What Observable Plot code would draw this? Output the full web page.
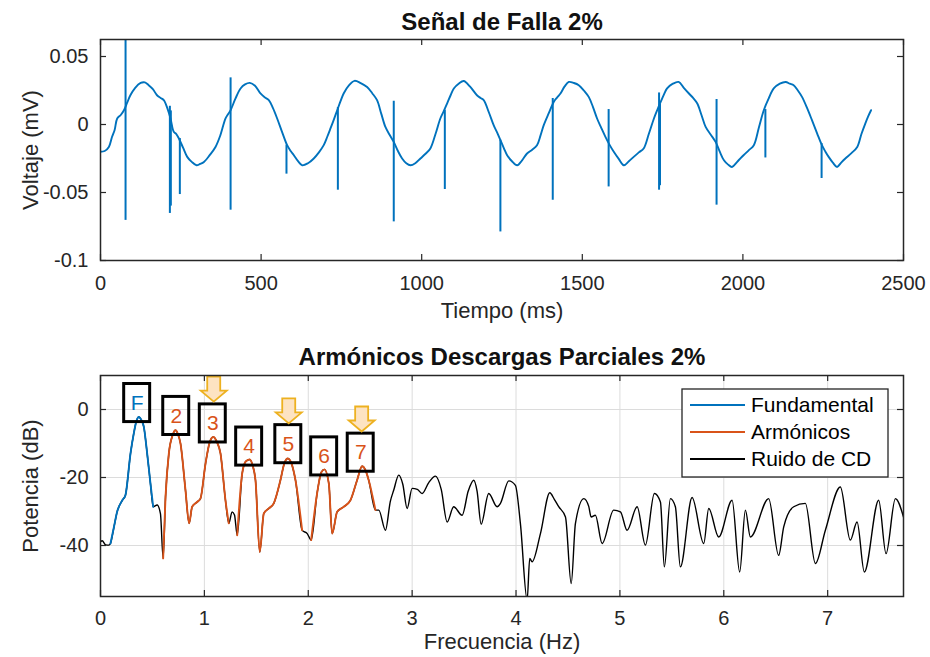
<!DOCTYPE html>
<html><head><meta charset="utf-8">
<script src="https://cdn.jsdelivr.net/npm/d3@7"></script>
<script src="https://cdn.jsdelivr.net/npm/@observablehq/plot@0.6"></script>
<style>
body{margin:0;background:#fff;}
#chart{width:930px;height:657px;position:relative;background:#fff;}
svg{display:block}
</style></head><body><div id="chart"></div>
<script>
// ---------- Top panel data: "Señal de Falla 2%" ----------
const timeMs = [0,13,26,36,44,52,63,73,83,93,108,125,138,150,163,176,187,197,208,218,228,236,244,257,270,284,299,310,322,340,358,373,389,397,405,420,436,450,465,481,498,511,524,537,550,566,581,592,602,615,628,646,664,680,695,706,716,727,737,747,757,774,791,810,830,846,861,874,887,900,913,926,939,952,965,980,996,1012,1027,1043,1058,1069,1079,1090,1100,1115,1131,1150,1172,1183,1193,1209,1224,1235,1245,1256,1266,1281,1297,1312,1328,1344,1359,1370,1380,1396,1411,1422,1432,1445,1458,1474,1489,1505,1520,1533,1546,1559,1572,1585,1598,1614,1629,1645,1660,1676,1691,1707,1723,1734,1744,1754,1764,1782,1800,1816,1832,1845,1858,1871,1884,1900,1915,1928,1941,1954,1966,1984,2002,2018,2034,2050,2065,2080,2096,2115,2133,2146,2158,2171,2184,2200,2215,2231,2246,2257,2267,2280,2293,2306,2319,2338,2356,2369,2381,2390,2399];
const voltage = [-0.0200,-0.0195,-0.0165,-0.0090,-0.0040,0.0044,0.0070,0.0105,0.0160,0.0215,0.0270,0.0306,0.0310,0.0289,0.0260,0.0215,0.0195,0.0179,0.0120,0.0044,-0.0054,-0.0070,-0.0103,-0.0170,-0.0238,-0.0275,-0.0300,-0.0290,-0.0275,-0.0225,-0.0165,-0.0080,0.0044,0.0075,0.0105,0.0190,0.0265,0.0295,0.0306,0.0285,0.0228,0.0200,0.0179,0.0120,0.0044,-0.0060,-0.0152,-0.0195,-0.0226,-0.0270,-0.0300,-0.0285,-0.0250,-0.0205,-0.0152,-0.0090,-0.0029,0.0040,0.0105,0.0170,0.0228,0.0290,0.0321,0.0305,0.0276,0.0230,0.0179,0.0080,-0.0018,-0.0075,-0.0128,-0.0195,-0.0250,-0.0285,-0.0300,-0.0285,-0.0250,-0.0215,-0.0176,-0.0070,0.0044,0.0100,0.0154,0.0215,0.0265,0.0300,0.0320,0.0280,0.0215,0.0195,0.0179,0.0090,-0.0005,-0.0060,-0.0115,-0.0175,-0.0226,-0.0270,-0.0300,-0.0265,-0.0213,-0.0185,-0.0152,-0.0080,-0.0005,0.0085,0.0166,0.0200,0.0228,0.0280,0.0313,0.0305,0.0289,0.0250,0.0203,0.0130,0.0044,-0.0025,-0.0091,-0.0150,-0.0201,-0.0255,-0.0300,-0.0270,-0.0238,-0.0205,-0.0176,-0.0070,0.0044,0.0110,0.0166,0.0220,0.0265,0.0300,0.0313,0.0270,0.0228,0.0195,0.0154,0.0070,-0.0018,-0.0075,-0.0128,-0.0200,-0.0263,-0.0295,-0.0312,-0.0270,-0.0226,-0.0190,-0.0152,-0.0020,0.0105,0.0190,0.0265,0.0300,0.0313,0.0300,0.0289,0.0250,0.0203,0.0120,0.0032,-0.0065,-0.0152,-0.0200,-0.0238,-0.0280,-0.0312,-0.0280,-0.0250,-0.0210,-0.0165,-0.0070,0.0007,0.0060,0.0105];
const spikeTimeMs = [78,216,219,247,405,579,739,913,1072,1245,1408,1582,1739,1742,1918,2070,2245];
const spikeTop    = [0.07,0.0134,0.0100,-0.0103,0.0343,-0.0152,0.0125,0.0171,0.0105,-0.0115,0.0191,0.0110,0.0232,0.0150,0.0184,0.0110,-0.0140];
const spikeBottom = [-0.0705,-0.0654,-0.0600,-0.0515,-0.0630,-0.0365,-0.0483,-0.0716,-0.0478,-0.0790,-0.0557,-0.0459,-0.0483,-0.0450,-0.0593,-0.0246,-0.0397];
const timeTicks = [0,500,1000,1500,2000,2500];
const voltTicks = [-0.1,-0.05,0,0.05];

// ---------- Bottom panel data: "Armónicos Descargas Parciales 2%" ----------
const freqHz = [0,0.016,0.05,0.08,0.096,0.13,0.16,0.21,0.24,0.289,0.32,0.345,0.369,0.395,0.417,0.449,0.481,0.507,0.545,0.577,0.603,0.626,0.658,0.695,0.722,0.745,0.77,0.818,0.853,0.882,0.93,0.962,1.011,1.05,1.085,1.12,1.155,1.203,1.235,1.267,1.29,1.316,1.364,1.40,1.437,1.465,1.492,1.533,1.572,1.62,1.668,1.732,1.77,1.803,1.84,1.877,1.941,1.99,2.028,2.085,2.125,2.156,2.198,2.23,2.278,2.342,2.406,2.47,2.518,2.55,2.582,2.647,2.679,2.743,2.79,2.823,2.871,2.91,2.952,3.0,3.05,3.096,3.16,3.224,3.28,3.337,3.4,3.481,3.54,3.593,3.625,3.664,3.737,3.818,3.85,3.93,3.994,4.042,4.107,4.132,4.155,4.235,4.325,4.37,4.411,4.476,4.531,4.572,4.652,4.70,4.723,4.764,4.829,4.94,5.005,5.069,5.166,5.245,5.332,5.39,5.428,5.486,5.534,5.582,5.695,5.807,5.855,5.951,6.08,6.153,6.208,6.256,6.432,6.528,6.577,6.673,6.785,6.882,6.978,7.122,7.218,7.283,7.353,7.491,7.562,7.652,7.73];
const powerDb = [-38.9,-38.6,-39.8,-39.9,-39.4,-34.5,-30.1,-26.7,-25.2,-12.9,-7.1,-3.5,-2.2,-3.2,-5.1,-12.9,-21.8,-28.6,-28.1,-30.6,-43.8,-25.7,-12.9,-7.5,-6.1,-7.2,-10,-23.7,-33.5,-28.6,-27.2,-26.2,-15.9,-9.8,-8.1,-9.5,-12.9,-26.7,-33.5,-30.1,-31,-37,-18.8,-15.2,-14.7,-16.5,-20.8,-41.9,-30.6,-29.1,-27.6,-20.8,-15.8,-14.4,-16,-20.8,-35.5,-36.5,-38.4,-24.7,-18.5,-17.6,-21.8,-36.5,-30.1,-28.6,-26.7,-20.8,-16.7,-17.8,-20.8,-29.6,-29.6,-35.5,-27,-23.7,-19.3,-22,-29.1,-23.2,-23.5,-24.7,-21.5,-19.6,-23.5,-33.1,-28.6,-31.1,-24,-20.8,-24,-33.7,-24.7,-28.6,-27.6,-21,-22.3,-33.5,-56,-43.8,-44.8,-36.5,-24.5,-26.5,-28.6,-31.6,-51.2,-33.5,-26.2,-28.5,-31.6,-31.1,-39.4,-29.6,-30.1,-35.5,-28.6,-39.9,-24.7,-27.2,-46.3,-26.2,-28.6,-46.3,-25.9,-39.4,-29.1,-37.5,-26.7,-47.8,-29.6,-37.5,-26.2,-42.9,-34.5,-28.6,-27.6,-45.3,-35.5,-22.8,-38.4,-33.1,-47.8,-26.7,-42.4,-26.2,-31.6];
// band of each point: F = fundamental, A = armónicos, R = ruido de CD
const band = ["R","R","R","R","F","F","F","F","F","F","F","F","F","F","F","F","F","F","R","R","A","A","A","A","A","A","A","A","A","A","A","A","A","A","A","A","A","A","A","R","R","A","A","A","A","A","A","A","A","A","A","A","A","A","A","A","A","R","A","A","A","A","A","A","A","A","A","A","A","A","A","A"].concat(Array(freqHz.length - 72).fill("R"));
const labelText = ["F","2","3","4","5","6","7"];
const labelFreq = [0.353,0.729,1.081,1.431,1.808,2.153,2.505];
const labelDb   = [1.9,-1.9,-4.1,-10.9,-10.2,-13.8,-12.7];
const arrowFreq = [1.09,1.812,2.514];
const arrowDb   = [6.0,-0.4,-2.8];
const freqTicks = [0,1,2,3,4,5,6,7];
const dbTicks = [-40,-20,0];
const legendNames = ["Fundamental","Armónicos","Ruido de CD"];

// ---------- styling ----------
const FONT = "'Liberation Sans', Arial, Helvetica, sans-serif";
const AX = "#262626";
const BLUE = "#0072BD", ORANGE = "#D95319", BLACK = "#000000";
const legendColors = [BLUE, ORANGE, BLACK];
const fmt = d => String(d);

function inwardTicks(xt, yt, fw, fh, len) {
  return [
    Plot.tickX(xt, {x: d => d, insetTop: fh - len, stroke: AX, strokeWidth: 1.2}),
    Plot.tickX(xt, {x: d => d, insetBottom: fh - len, stroke: AX, strokeWidth: 1.2}),
    Plot.tickY(yt, {y: d => d, insetRight: fw - len, stroke: AX, strokeWidth: 1.2}),
    Plot.tickY(yt, {y: d => d, insetLeft: fw - len, stroke: AX, strokeWidth: 1.2})
  ];
}

const sig = timeMs.map((t, i) => ({t, v: voltage[i]}));
const spikes = spikeTimeMs.map((t, i) => ({t, top: spikeTop[i], bottom: spikeBottom[i]}));

const textCommon = {text: d => d, lineAnchor: "middle", textAnchor: "middle"};

const topPlot = Plot.plot({
  width: 930, height: 330,
  marginLeft: 100, marginRight: 27, marginTop: 39, marginBottom: 70,
  style: {fontFamily: FONT, fontSize: "20px", color: AX, background: "white"},
  x: {domain: [0, 2500]},
  y: {domain: [-0.1, 0.0625]},
  marks: [
    Plot.line(sig, {x: "t", y: "v", stroke: BLUE, strokeWidth: 1.9, curve: "catmull-rom", clip: true}),
    Plot.ruleX(spikes, {x: "t", y1: "bottom", y2: "top", stroke: BLUE, strokeWidth: 2, clip: true}),
    Plot.frame({stroke: AX, strokeWidth: 1.5}),
    ...inwardTicks(timeTicks, voltTicks, 803, 221, 6),
    Plot.axisX(timeTicks, {tickSize: 0, tickPadding: 15, tickFormat: fmt, label: null, fontSize: 20}),
    Plot.axisY(voltTicks, {tickSize: 0, tickPadding: 12, tickFormat: fmt, label: null, fontSize: 20}),
    Plot.text(["Señal de Falla 2%"], {...textCommon, frameAnchor: "top", dy: -17, fontSize: 24, fontWeight: "bold", fill: "#111"}),
    Plot.text(["Tiempo (ms)"], {...textCommon, frameAnchor: "bottom", dy: 50, fontSize: 22}),
    Plot.text(["Voltaje (mV)"], {...textCommon, frameAnchor: "left", dx: -70, rotate: -90, fontSize: 22})
  ]
});

// segments of contiguous bands
let segId = 0;
const spec = freqHz.map((f, i) => {
  if (i > 0 && band[i] !== band[i - 1]) segId++;
  return {f, db: powerDb[i], band: band[i], seg: segId};
});
const labels = labelText.map((label, i) => ({label, f: labelFreq[i], db: labelDb[i]}));
const arrows = arrowFreq.map((f, i) => ({f, db: arrowDb[i]}));

const arrowSymbol = {
  draw(ctx) {
    ctx.moveTo(-6.5, -12.5);
    ctx.lineTo(6.5, -12.5);
    ctx.lineTo(6.5, 1.5);
    ctx.lineTo(13, 1.5);
    ctx.lineTo(0, 12.5);
    ctx.lineTo(-13, 1.5);
    ctx.lineTo(-6.5, 1.5);
    ctx.closePath();
  }
};

const BOX_HALF_W = 0.125, BOX_HALF_H = 5.6;
const bottomPlot = Plot.plot({
  width: 930, height: 327,
  marginLeft: 100, marginRight: 27, marginTop: 45, marginBottom: 61,
  style: {fontFamily: FONT, fontSize: "20px", color: AX, background: "white"},
  x: {domain: [0, 7.73]},
  y: {domain: [-55, 10]},
  marks: [
    Plot.gridX(freqTicks, {stroke: "#dcdcdc", strokeOpacity: 1, strokeWidth: 1}),
    Plot.gridY(dbTicks, {stroke: "#dcdcdc", strokeOpacity: 1, strokeWidth: 1}),
    Plot.line(spec, {x: "f", y: "db", stroke: BLACK, strokeWidth: 1.4, curve: "monotone-x", clip: true}),
    Plot.line(spec.filter(d => d.band === "F"), {x: "f", y: "db", z: "seg", stroke: BLUE, strokeWidth: 1.9, curve: "monotone-x", clip: true}),
    Plot.line(spec.filter(d => d.band === "A"), {x: "f", y: "db", z: "seg", stroke: ORANGE, strokeWidth: 1.9, curve: "monotone-x", clip: true}),
    Plot.rect(labels, {x1: d => d.f - BOX_HALF_W, x2: d => d.f + BOX_HALF_W, y1: d => d.db - BOX_HALF_H, y2: d => d.db + BOX_HALF_H, fill: "none", stroke: "#000", strokeWidth: 3}),
    Plot.text(labels.filter(d => d.label === "F"), {x: "f", y: "db", text: "label", fill: BLUE, fontSize: 21}),
    Plot.text(labels.filter(d => d.label !== "F"), {x: "f", y: "db", text: "label", fill: ORANGE, fontSize: 21}),
    Plot.dot(arrows, {x: "f", y: "db", symbol: arrowSymbol, fill: "#FDE3C2", stroke: "#EDB120", strokeWidth: 1.8}),
    Plot.frame({stroke: AX, strokeWidth: 1.5}),
    ...inwardTicks(freqTicks, dbTicks, 803, 221, 6),
    Plot.axisX(freqTicks, {tickSize: 0, tickPadding: 14, tickFormat: fmt, label: null, fontSize: 20}),
    Plot.axisY(dbTicks, {tickSize: 0, tickPadding: 12, tickFormat: fmt, label: null, fontSize: 20}),
    Plot.text(["Armónicos Descargas Parciales 2%"], {...textCommon, frameAnchor: "top", dy: -18, fontSize: 24, fontWeight: "bold", fill: "#111"}),
    Plot.text(["Frecuencia (Hz)"], {...textCommon, frameAnchor: "bottom", dy: 45, fontSize: 22}),
    Plot.text(["Potencia (dB)"], {...textCommon, frameAnchor: "left", dx: -70, rotate: -90, fontSize: 22})
  ]
});

// legend (inside bottom axes, upper right)
const lg = d3.select(bottomPlot).append("g")
  .attr("font-family", FONT).attr("font-size", 21).attr("text-anchor", "start");
lg.append("rect").attr("x", 682).attr("y", 59).attr("width", 206).attr("height", 88)
  .attr("fill", "white").attr("stroke", AX).attr("stroke-width", 1.3);
legendNames.forEach((name, i) => {
  const y = 75 + i * 27;
  lg.append("line").attr("x1", 690).attr("x2", 745).attr("y1", y).attr("y2", y)
    .attr("stroke", legendColors[i]).attr("stroke-width", 1.8);
  lg.append("text").attr("x", 751).attr("y", y).attr("dy", "0.35em")
    .attr("text-anchor", "start").attr("fill", "#000").text(name);
});

const chart = document.getElementById("chart");
chart.appendChild(topPlot);
chart.appendChild(bottomPlot);
</script>
</body></html>
